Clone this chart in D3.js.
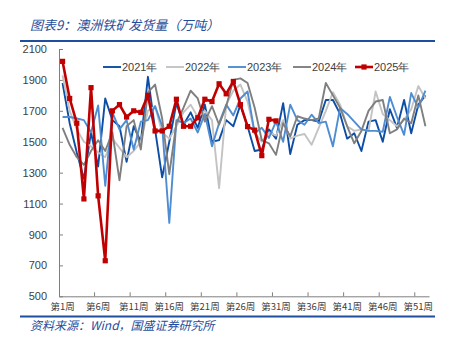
<!DOCTYPE html>
<html><head><meta charset="utf-8">
<script src="https://cdn.jsdelivr.net/npm/d3@7"></script>
<style>
body{margin:0;background:#fff;}
svg{display:block;}
</style></head>
<body>
<svg id="c" width="455" height="341"></svg>
<script>
const weeks = d3.range(1, 53).map(i => "第" + i + "周");
const tickLabels = ["第1周","第6周","第11周","第16周","第21周","第26周","第31周","第36周","第41周","第46周","第51周"];
const yTicks = [500,700,900,1100,1300,1500,1700,1900,2100];
const seriesNames = ["2021年","2022年","2023年","2024年","2025年"];

const s2021 = [1880,1620,1430,1260,1560,1340,1780,1640,1600,1370,1600,1500,1920,1580,1270,1500,1750,1610,1690,1590,1740,1500,1510,1640,1600,1740,1600,1440,1450,1580,1520,1750,1420,1610,1640,1640,1630,1770,1770,1680,1520,1555,1440,1630,1640,1500,1710,1590,1770,1555,1740,1800];
const s2022 = [1930,1700,1580,1500,1470,1430,1400,1520,1460,1400,1440,1500,1700,1730,1560,1520,1600,1690,1740,1660,1700,1640,1200,1740,1830,1870,1760,1560,1500,1560,1540,1640,1520,1540,1550,1480,1590,1700,1820,1740,1600,1570,1580,1570,1825,1680,1640,1600,1640,1710,1860,1780];
const s2023 = [1660,1660,1650,1640,1560,1735,1215,1690,1580,1640,1450,1630,1640,1730,1600,975,1640,1620,1650,1560,1680,1470,1620,1740,1670,1780,1825,1555,1590,1525,1630,1500,1740,1640,1610,1675,1620,1630,1470,1718,1680,1630,1580,1570,1570,1565,1790,1660,1545,1815,1720,1830];
const s2024 = [1590,1480,1400,1350,1440,1510,1440,1560,1250,1600,1640,1450,1820,1870,1650,1290,1620,1720,1830,1780,1630,1730,1610,1730,1900,1910,1880,1720,1510,1490,1415,1620,1535,1665,1650,1640,1650,1880,1800,1720,1600,1490,1570,1700,1760,1770,1555,1580,1650,1620,1800,1600];
const s2025 = [2020,1780,1620,1130,1850,1150,730,1700,1740,1660,1700,1690,1800,1570,1570,1600,1775,1600,1600,1655,1775,1760,1875,1810,1890,1740,1598,1575,1410,1645,1635];

const colors = ["#0E4DA4","#C3C3C3","#4F8DD3","#7F7F7F","#C00000"];
const data = [s2021, s2022, s2023, s2024, s2025];

const svg = d3.select("#c");
const mLeft = 59, mRight = 429, mTop = 49, mBottom = 296.3;

const x = d3.scaleBand().domain(weeks).range([mLeft, mRight]).padding(0);
const y = d3.scaleLinear().domain([500, 2100]).range([mBottom, mTop]);

// title
svg.append("text").attr("x", 30).attr("y", 30)
  .attr("font-family", "Noto Sans CJK SC").attr("font-size", 13).attr("font-style", "italic")
  .attr("fill", "#1F4E9C").text("图表9：澳洲铁矿发货量（万吨）");
svg.append("line").attr("x1", 20).attr("x2", 435).attr("y1", 41).attr("y2", 41)
  .attr("stroke", "#1F4E9C").attr("stroke-width", 2);

// footer
svg.append("line").attr("x1", 20).attr("x2", 435).attr("y1", 316.5).attr("y2", 316.5)
  .attr("stroke", "#1F4E9C").attr("stroke-width", 2);
svg.append("text").attr("x", 30).attr("y", 330)
  .attr("font-family", "Noto Sans CJK SC").attr("font-size", 12).attr("font-style", "italic")
  .attr("fill", "#1F4E9C").text("资料来源：Wind，国盛证券研究所");

// y axis
const yAxis = svg.append("g").attr("transform", `translate(${mLeft},0)`)
  .call(d3.axisLeft(y).tickValues(yTicks).tickFormat(d3.format("d")).tickSize(-4).tickPadding(12).tickSizeOuter(0));
yAxis.select(".domain").attr("stroke", "#7F7F7F");
yAxis.selectAll(".tick line").attr("stroke", "#7F7F7F");
yAxis.selectAll("text").attr("font-family", "Liberation Sans, Arial").attr("font-size", 11).attr("fill", "#404040");

// x axis
const xAxis = svg.append("g").attr("transform", `translate(0,${mBottom})`)
  .call(d3.axisBottom(x).tickValues(tickLabels).tickSize(0).tickPadding(7).tickSizeOuter(0));
xAxis.select(".domain").attr("stroke", "#7F7F7F");
xAxis.selectAll("text").attr("font-family", "Noto Sans CJK SC").attr("font-size", 9.5).attr("fill", "#404040");
const bTicks = d3.range(5, 52, 5).map(i => weeks[i]);
svg.append("g").selectAll("line").data(bTicks).join("line")
  .attr("x1", d => x(d)).attr("x2", d => x(d))
  .attr("y1", mBottom).attr("y2", mBottom - 4)
  .attr("stroke", "#7F7F7F");

// lines
const line = d3.line().x((d, i) => x(weeks[i]) + x.bandwidth() / 2).y(d => y(d));
data.forEach((s, k) => {
  svg.append("path").datum(s).attr("d", line).attr("fill", "none")
    .attr("stroke", colors[k]).attr("stroke-width", k === 4 ? 2.6 : 1.9)
    .attr("stroke-linejoin", "round");
});
svg.append("g").selectAll("rect").data(s2025).join("rect")
  .attr("x", (d, i) => x(weeks[i]) + x.bandwidth() / 2 - 2.6)
  .attr("y", d => y(d) - 2.6)
  .attr("width", 5.2).attr("height", 5.2).attr("fill", "#C00000");

// legend
const legX = [103, 166, 228, 293, 355];
const lg = svg.append("g");
seriesNames.forEach((n, k) => {
  lg.append("line").attr("x1", legX[k]).attr("x2", legX[k] + 18).attr("y1", 67).attr("y2", 67)
    .attr("stroke", colors[k]).attr("stroke-width", k === 4 ? 2.6 : 1.9);
  if (k === 4) lg.append("rect").attr("x", legX[k] + 9 - 2.6).attr("y", 67 - 2.6)
    .attr("width", 5.2).attr("height", 5.2).attr("fill", "#C00000");
  lg.append("text").attr("x", legX[k] + 19).attr("y", 71)
    .attr("font-family", "Liberation Sans, Arial").attr("font-size", 11).attr("fill", "#404040").text(n);
});
</script>
</body></html>
